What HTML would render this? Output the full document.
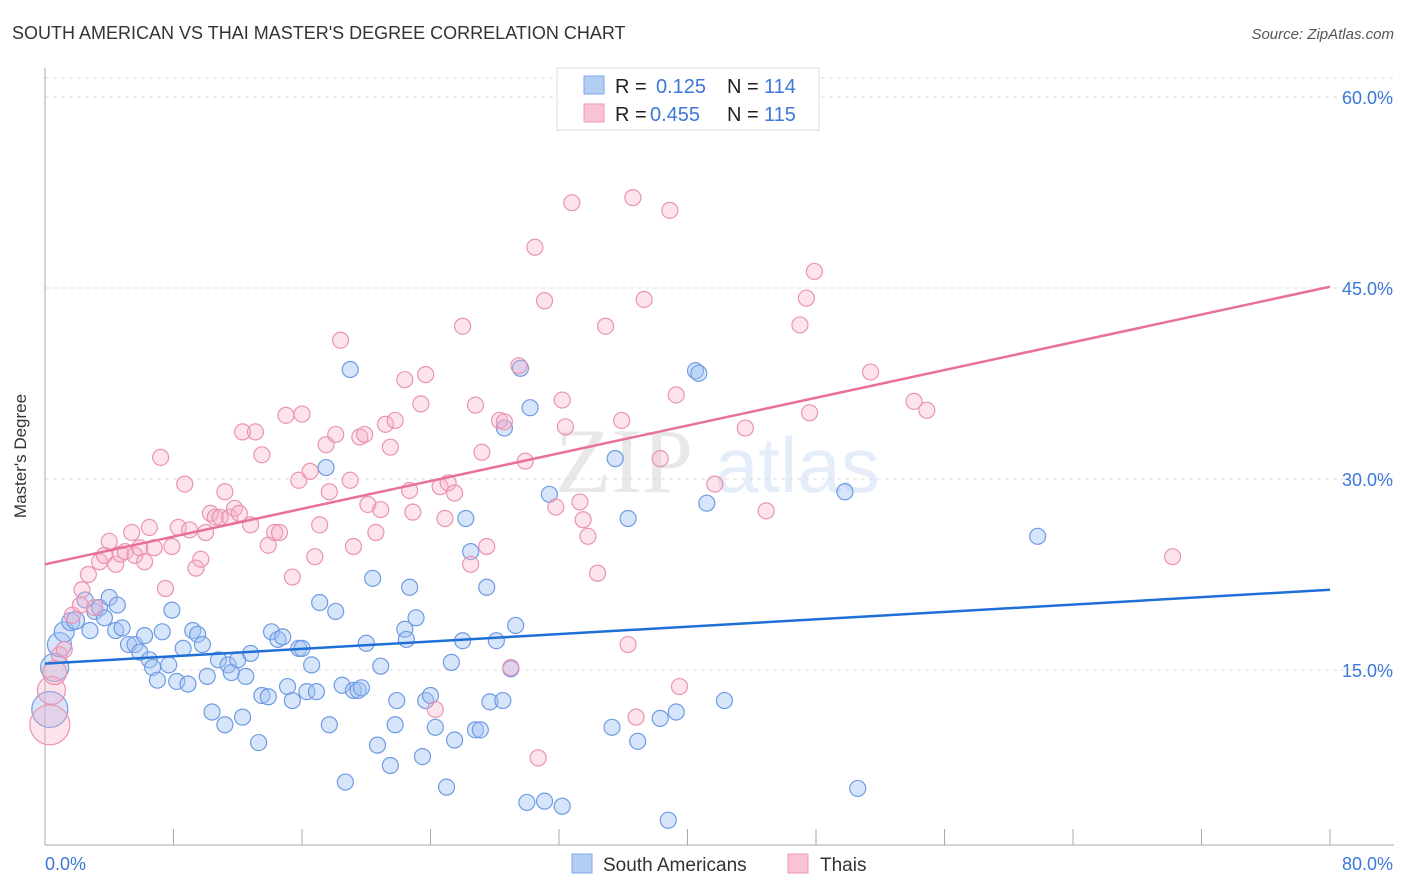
<!DOCTYPE html>
<html><head><meta charset="utf-8"><style>
body{margin:0;background:#fff;font-family:"Liberation Sans",sans-serif;}
svg{display:block}
</style></head><body>
<svg id="chart" width="1406" height="892">
<text x="12" y="39" font-size="18" fill="#333">SOUTH AMERICAN VS THAI MASTER'S DEGREE CORRELATION CHART</text>
<text x="1394" y="39" font-size="15" fill="#555" font-style="italic" text-anchor="end">Source: ZipAtlas.com</text>
<g opacity="0.13"><text x="555" y="492" font-size="92" font-family="Liberation Serif" fill="#555">ZIP</text><text x="715" y="492" font-size="78" fill="#3b78d8">atlas</text></g>
<g id="grid"></g>
<g id="axes"></g>
<g id="pts"></g>
<g id="lines"></g>
<text x="26" y="456" font-size="17" fill="#333" text-anchor="middle" transform="rotate(-90 26 456)">Master's Degree</text>
<g>
<rect x="557" y="68" width="262" height="62" fill="#fff" stroke="#ddd"/>
<rect x="584" y="76" width="20" height="18" fill="#b3cdf3" stroke="#7da6e8"/>
<text x="615" y="93" font-size="20" fill="#222">R = </text><text x="656" y="93" font-size="20" fill="#3b78d8">0.125</text>
<text x="727" y="93" font-size="20" fill="#222">N = </text><text x="764" y="93" font-size="20" fill="#3b78d8">114</text>
<rect x="584" y="104" width="20" height="18" fill="#f8c4d4" stroke="#ec9ab6"/>
<text x="615" y="121" font-size="20" fill="#222">R = </text><text x="650" y="121" font-size="20" fill="#3b78d8">0.455</text>
<text x="727" y="121" font-size="20" fill="#222">N = </text><text x="764" y="121" font-size="20" fill="#3b78d8">115</text>
</g>
<g>
<rect x="572" y="854" width="20" height="19" fill="#b3cdf3" stroke="#7da6e8"/>
<text x="603" y="871" font-size="19" fill="#333">South Americans</text>
<rect x="788" y="854" width="20" height="19" fill="#f8c4d4" stroke="#ec9ab6"/>
<text x="820" y="871" font-size="19" fill="#333">Thais</text>
</g>
</svg>
<script>
const yTicks=[15,30,45,60];
const yTickLabels=["15.0%","30.0%","45.0%","60.0%"];
const xTickVals=[0,8,16,24,32,40,48,56,64,72,80];
const xEndLabels=["0.0%","80.0%"];
const blueX=[0.3,0.6,0.9,1.2,1.6,1.9,2.5,2.8,3.1,3.4,3.7,4.0,4.4,4.5,4.8,5.2,5.6,5.9,6.2,6.5,6.7,7.0,7.3,7.7,7.9,8.2,8.6,8.9,9.2,9.5,9.8,10.1,10.4,10.8,11.2,11.4,11.6,12.0,12.3,12.5,12.8,13.3,13.5,13.9,14.1,14.5,14.8,15.1,15.4,15.8,16.0,16.3,16.6,16.9,17.1,17.5,17.7,18.1,18.5,18.7,19.0,19.2,19.5,19.7,20.0,20.4,20.7,20.9,21.5,21.8,21.9,22.4,22.5,22.7,23.1,23.5,23.7,24.0,24.3,25.0,25.3,25.5,26.0,26.2,26.5,26.8,27.1,27.5,27.7,28.1,28.5,28.6,29.0,29.3,29.6,30.0,30.2,31.1,31.4,32.2,35.5,35.3,36.3,36.9,38.3,38.8,39.3,40.5,40.7,41.2,42.3,49.8,50.6,61.8];
const blueY=[11.9,15.2,17.0,18.0,18.8,18.9,20.5,18.1,19.6,19.9,19.1,20.7,18.1,20.1,18.3,17.0,17.0,16.4,17.7,15.8,15.2,14.2,18.0,15.4,19.7,14.1,16.7,13.9,18.1,17.8,17.0,14.5,11.7,15.8,10.7,15.4,14.8,15.8,11.3,14.5,16.3,9.3,13.0,12.9,18.0,17.4,17.6,13.7,12.6,16.7,16.7,13.3,15.4,13.3,20.3,30.9,10.7,19.6,13.8,6.2,38.6,13.4,13.4,13.6,17.1,22.2,9.1,15.3,7.5,10.7,12.6,18.2,17.4,21.5,19.1,8.2,12.6,13.0,10.5,5.8,15.6,9.5,17.3,26.9,24.3,10.3,10.3,21.5,12.5,17.3,12.6,34.0,15.1,18.5,38.7,4.6,35.6,4.7,28.8,4.3,31.6,10.5,26.9,9.4,11.2,3.2,11.7,38.5,38.3,28.1,12.6,29.0,5.7,25.5];
const blueR=[18,14,12,10,9,9,8,8,8,8,8,8,8,8,8,8,8,8,8,8,8,8,8,8,8,8,8,8,8,8,8,8,8,8,8,8,8,8,8,8,8,8,8,8,8,8,8,8,8,8,8,8,8,8,8,8,8,8,8,8,8,8,8,8,8,8,8,8,8,8,8,8,8,8,8,8,8,8,8,8,8,8,8,8,8,8,8,8,8,8,8,8,8,8,8,8,8,8,8,8,8,8,8,8,8,8,8,8,8,8,8,8,8,8];
const pinkX=[0.3,0.4,0.6,0.9,1.2,1.7,2.2,2.3,2.7,3.1,3.4,3.7,4.0,4.4,4.7,5.0,5.4,5.6,5.9,6.2,6.5,6.8,7.2,7.5,7.9,8.3,8.7,9.0,9.4,9.7,10.0,10.3,10.6,10.9,11.2,11.5,11.8,12.1,12.3,12.8,13.1,13.5,13.9,14.3,14.6,15.0,15.4,15.8,16.0,16.5,16.8,17.1,17.5,17.7,18.1,18.4,19.0,19.2,19.6,19.9,20.1,20.6,20.9,21.2,21.5,21.8,22.4,22.7,22.9,23.4,23.7,24.3,24.6,24.9,25.1,25.5,26.0,26.5,26.8,27.2,27.5,28.3,28.6,29.0,29.5,29.9,30.5,30.7,31.1,31.8,32.2,32.4,32.8,33.3,33.5,33.8,34.4,34.9,35.9,36.3,36.6,36.8,37.3,38.3,38.9,39.3,39.5,41.7,43.6,44.9,47.0,47.4,47.6,47.9,51.4,54.1,54.9,70.2];
const pinkY=[10.7,13.4,14.8,16.2,16.6,19.3,20.1,21.3,22.5,19.9,23.5,24.0,25.1,23.3,24.1,24.3,25.8,24.0,24.6,23.5,26.2,24.6,31.7,21.4,24.7,26.2,29.6,26.0,23.0,23.7,25.8,27.3,27.0,27.0,29.0,27.0,27.7,27.3,33.7,26.4,33.7,31.9,24.8,25.8,25.8,35.0,22.3,29.9,35.1,30.6,23.9,26.4,32.7,29.0,33.5,40.9,29.9,24.7,33.3,33.5,28.0,25.8,27.6,34.3,32.5,34.6,37.8,29.1,27.4,35.9,38.2,11.9,29.4,26.9,29.7,28.9,42.0,23.3,35.8,32.1,24.7,34.6,34.5,15.2,38.9,31.4,48.2,8.1,44.0,27.8,36.2,34.1,51.7,28.2,26.8,25.5,22.6,42.0,34.6,17.0,52.1,11.3,44.1,31.6,51.1,36.6,13.7,29.6,34.0,27.5,42.1,44.2,35.2,46.3,38.4,36.1,35.4,23.9];
const pinkBig=[0,1,2];
const pinkBigR=[20,14,12];
const blueTrend=[15.5,21.3];
const pinkTrend=[23.3,45.1];
const X0=45,X1=1330,YB=861,PXY=12.733;
const sx=v=>X0+v/80*(X1-X0);
const sy=v=>YB-v*PXY;
const NS="http://www.w3.org/2000/svg";
function mk(tag,attrs,parent){const e=document.createElementNS(NS,tag);for(const k in attrs)e.setAttribute(k,attrs[k]);parent.appendChild(e);return e;}
const grid=document.getElementById('grid'),axes=document.getElementById('axes'),pts=document.getElementById('pts'),lines=document.getElementById('lines');
mk('line',{x1:45,x2:1394,y1:78,y2:78,stroke:'#ddd','stroke-dasharray':'4,4'},grid);
yTicks.forEach((t,i)=>{
 const l=mk('line',{x1:45,x2:1394,y1:sy(t),y2:sy(t),stroke:'#ddd','stroke-dasharray':'4,4'},grid);
 
 
 const tx=mk('text',{x:1393,y:sy(t)+7,'font-size':18,fill:'#3b78d8','text-anchor':'end'},axes);
 tx.textContent=yTickLabels[i];
 
 
});
mk('line',{x1:45,x2:45,y1:68,y2:845,stroke:'#aaa'},axes);
mk('line',{x1:45,x2:1394,y1:845,y2:845,stroke:'#aaa'},axes);
xTickVals.forEach(v=>{
 const t=mk('line',{x1:sx(v),x2:sx(v),y1:829,y2:845,stroke:'#aaa'},axes);
 
 
});
const xl0=mk('text',{x:45,y:870,'font-size':18,fill:'#3b78d8'},axes);xl0.textContent=xEndLabels[0];


const xl1=mk('text',{x:1393,y:870,'font-size':18,fill:'#3b78d8','text-anchor':'end'},axes);xl1.textContent=xEndLabels[1];


blueX.forEach((x,i)=>{
 const c=mk('circle',{cx:sx(x),cy:sy(blueY[i]),r:blueR[i]||8,fill:'rgba(160,192,242,0.42)',stroke:'#6f9be3','stroke-width':1.2},pts);
 
 
});
pinkX.forEach((x,i)=>{
 const k=pinkBig.indexOf(i);
 const c=mk('circle',{cx:sx(x),cy:sy(pinkY[i]),r:k>=0?pinkBigR[k]:8,fill:'rgba(246,176,200,0.35)',stroke:'#ea94b2','stroke-width':1.2},pts);
 
 
});
const bl=mk('line',{x1:sx(0),y1:sy(blueTrend[0]),x2:sx(80),y2:sy(blueTrend[1]),stroke:'#1f6fd6','stroke-width':2.5},lines);


const pl=mk('line',{x1:sx(0),y1:sy(pinkTrend[0]),x2:sx(80),y2:sy(pinkTrend[1]),stroke:'#e8709a','stroke-width':2.5},lines);


</script>
</body></html>
